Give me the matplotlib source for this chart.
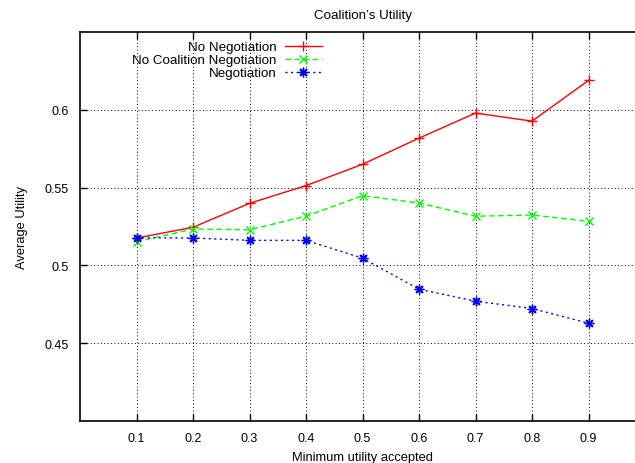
import matplotlib
matplotlib.use("Agg")
import matplotlib.pyplot as plt

plt.rcParams['font.family'] = ['Liberation Sans', 'DejaVu Sans']

# data
min_utility = [0.1, 0.2, 0.3, 0.4, 0.5, 0.6, 0.7, 0.8, 0.9]
no_negotiation = [0.5176, 0.5245, 0.5399, 0.5513, 0.5650, 0.5818, 0.5979, 0.5927, 0.6189]
no_coalition_negotiation = [0.5152, 0.5234, 0.5229, 0.5317, 0.5448, 0.5401, 0.5316, 0.5324, 0.5283]
negotiation = [0.5178, 0.5176, 0.5161, 0.5161, 0.5047, 0.4847, 0.4770, 0.4723, 0.4628]

x_ticks = [0.1, 0.2, 0.3, 0.4, 0.5, 0.6, 0.7, 0.8, 0.9]
y_ticks = [0.45, 0.5, 0.55, 0.6]

fig = plt.figure(figsize=(6.35, 4.64), dpi=100)
# right edge of the plot sits just outside the image, like the cropped original
ax = fig.add_axes([80 / 635, 1 - 422 / 464, 565 / 635, 389 / 464])

ax.plot(min_utility, no_negotiation, color='#ff0000', lw=1.0, marker='+',
        markersize=7, markeredgewidth=1.0, label='No Negotiation')
ax.plot(min_utility, no_coalition_negotiation, color='#00ff00', lw=1.0,
        linestyle=(0, (4, 2.5)), marker='x', markersize=6, markeredgewidth=1.0,
        label='No Coalition Negotiation')
ax.plot(min_utility, negotiation, color='#0000ff', lw=1.0,
        linestyle=(0, (1.5, 2.5)), marker=(8, 2, 0), markersize=7,
        markeredgewidth=1.0, label='Negotiation')

ax.set_xlim(0, 1)
ax.set_ylim(0.4, 0.65)
ax.set_xticks(x_ticks)
ax.set_xticklabels([str(v) for v in x_ticks])
ax.set_yticks(y_ticks)
ax.set_yticklabels(['0.45', '0.5', '0.55', '0.6'])

ax.tick_params(direction='in', length=5, width=1, labelsize=9,
               top=True, right=True, pad=8)
ax.grid(True, color='black', lw=0.7, linestyle=(0, (1, 2.5)))
for s in ax.spines.values():
    s.set_linewidth(1.2)

ax.set_title('Coalition’s Utility', fontsize=9.6, pad=10)
ax.set_xlabel('Minimum utility accepted', fontsize=9.3, labelpad=5)
ax.set_ylabel('Average Utility', fontsize=9.3, labelpad=12)

ax.legend(loc='upper right', bbox_to_anchor=(242 / 565, 0.977),
          frameon=False, markerfirst=False, fontsize=9.6, labelspacing=0.05,
          handlelength=2.8, handletextpad=0.6, borderpad=0, borderaxespad=0)

fig.savefig('out.png', dpi=100)
